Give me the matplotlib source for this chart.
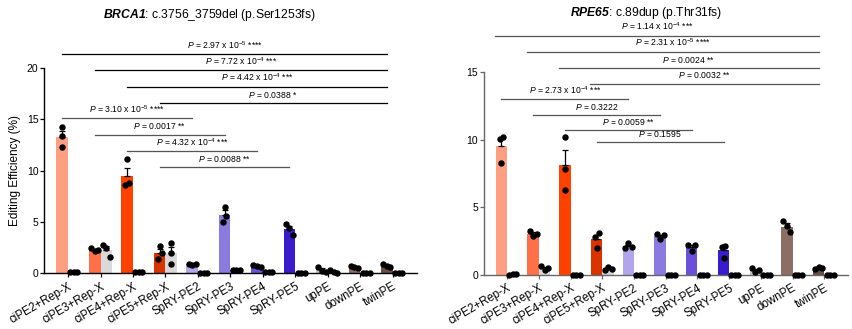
import matplotlib
matplotlib.use("Agg")
import matplotlib.pyplot as plt
from matplotlib import font_manager
import numpy as np

plt.rcParams['font.family'] = ['Liberation Sans', 'DejaVu Sans']
plt.rcParams['mathtext.fontset'] = 'custom'
plt.rcParams['mathtext.rm'] = 'Liberation Sans'
plt.rcParams['mathtext.it'] = 'Liberation Sans:italic'
plt.rcParams['mathtext.bf'] = 'Liberation Sans:bold'
plt.rcParams['mathtext.bfit'] = 'Liberation Sans:italic:bold'

nomes = {f.name for f in font_manager.fontManager.ttflist}
fonte_p = 'Liberation Sans Narrow' if 'Liberation Sans Narrow' in nomes else 'Liberation Sans'

groups = ['ciPE2+Rep-X', 'ciPE3+Rep-X', 'ciPE4+Rep-X', 'ciPE5+Rep-X', 'SpRY-PE2',
          'SpRY-PE3', 'SpRY-PE4', 'SpRY-PE5', 'upPE', 'downPE', 'twinPE']
colores = ['#ff9f82', '#ff7048', '#ff4100', '#d93400', '#b3a5ec', '#8b7ae0',
           '#6a50d8', '#3b1ccc', '#d6c0b8', '#8d6e63', '#6d4c41']
cinza = '#d9d9d9'
# second bar grey only for ciPE3 / ciPE5, else same colour as the first
segundo_cinza = [False, True, False, True, False, False, False, False, False, False, False]

# BRCA1 replicate values (treated, second bar)
brca1_a = [[14.3, 13.4, 12.3], [2.5, 2.15, 2.3], [11.1, 8.65, 8.8], [2.65, 1.4, 1.95],
           [0.95, 0.85, 0.9], [6.5, 5.6, 5.0], [0.8, 0.75, 0.6], [4.8, 4.4, 3.7],
           [0.65, 0.2, 0.1], [0.7, 0.6, 0.55], [0.9, 0.7, 0.6]]
brca1_b = [[0.1, 0.15, 0.15], [2.8, 2.45, 1.6], [0.1, 0.15, 0.15], [3.0, 1.95, 0.9],
           [0.05, 0.05, 0.05], [0.3, 0.35, 0.35], [0.1, 0.1, 0.1], [0.05, 0.05, 0.05],
           [0.3, 0.1, 0.05], [0.0, 0.0, 0.0], [0.0, 0.0, 0.0]]
# RPE65 replicate values
rpe65_a = [[10.2, 10.05, 8.3], [3.25, 2.9, 3.05], [10.2, 7.8, 6.3], [3.1, 2.8, 2.0],
           [2.0, 2.35, 2.05], [3.0, 2.7, 2.95], [2.25, 1.8, 2.2], [2.15, 1.25, 2.1],
           [0.5, 0.25, 0.35], [4.0, 3.6, 3.15], [0.45, 0.6, 0.5]]
rpe65_b = [[0.02, 0.05, 0.05], [0.7, 0.4, 0.5], [0.0, 0.0, 0.0], [0.35, 0.6, 0.45],
           [0.0, 0.0, 0.0], [0.0, 0.0, 0.0], [0.0, 0.0, 0.0], [0.0, 0.0, 0.0],
           [0.0, 0.0, 0.0], [0.0, 0.0, 0.0], [0.0, 0.0, 0.0]]

# comparisons (group i vs group j, p value text)
brca1_pares = [(0, 10), (1, 10), (2, 10), (3, 10), (0, 4), (1, 5), (2, 6), (3, 7)]
brca1_p = [r'$\it{P}$ = 2.97 x 10$^{\rm{-5}}$ ****', r'$\it{P}$ = 7.72 x 10$^{\rm{-4}}$ ***',
           r'$\it{P}$ = 4.42 x 10$^{\rm{-4}}$ ***', r'$\it{P}$ = 0.0388 *',
           r'$\it{P}$ = 3.10 x 10$^{\rm{-5}}$ ****', r'$\it{P}$ = 0.0017 **',
           r'$\it{P}$ = 4.32 x 10$^{\rm{-4}}$ ***', r'$\it{P}$ = 0.0088 **']
rpe65_pares = [(0, 10), (1, 10), (2, 10), (3, 10), (0, 4), (1, 5), (2, 6), (3, 7)]
rpe65_p = [r'$\it{P}$ = 1.14 x 10$^{\rm{-4}}$ ***', r'$\it{P}$ = 2.31 x 10$^{\rm{-5}}$ ****',
           r'$\it{P}$ = 0.0024 **', r'$\it{P}$ = 0.0032 **',
           r'$\it{P}$ = 2.73 x 10$^{\rm{-4}}$ ***', r'$\it{P}$ = 0.3222',
           r'$\it{P}$ = 0.0059 **', r'$\it{P}$ = 0.1595']

# bracket heights in data units
brca1_alturas = [21.35, 19.8, 18.2, 16.6, 15.1, 13.5, 11.9, 10.35]
rpe65_alturas = [17.7, 16.5, 15.3, 14.15, 13.0, 11.8, 10.7, 9.8]

largura = 0.36


def offsets(vals, escala):
    vals = np.array(vals)
    if vals.max() - vals.min() < 0.06 * escala:
        return np.array([-0.11, 0.0, 0.11])
    off = np.zeros(3)
    ordem = np.argsort(vals)
    for k in range(2):
        a, b = ordem[k], ordem[k + 1]
        if abs(vals[a] - vals[b]) < 0.03 * escala:
            off[a] -= 0.06
            off[b] += 0.06
    return off


def painel(ax, va, vb, ymax, passo, pares, ptxt, alturas, cor_eixo, cor_linhas, x_inicio_sup):
    x = np.arange(len(groups))
    for i in range(len(groups)):
        for lado, dados in ((-1, va[i]), (1, vb[i])):
            xc = x[i] + lado * largura / 2
            if lado == -1:
                c = colores[i]
            else:
                c = cinza if segundo_cinza[i] else colores[i]
            m = np.mean(dados)
            sem = np.std(dados, ddof=1) / np.sqrt(3)
            ax.bar(xc, m, width=largura, color=c, zorder=2)
            if m > 0.05:
                ax.errorbar(xc, m, yerr=[[0], [sem]], color='black', capsize=2.5,
                            elinewidth=0.9, capthick=0.9, zorder=3)
            ax.plot(xc + offsets(dados, ymax), dados, 'o', color='black',
                    markersize=3.6, zorder=4, clip_on=False)
    for k, ((a, b), t, h) in enumerate(zip(pares, ptxt, alturas)):
        x0 = a - largura / 2
        if k < 4:
            x0 -= x_inicio_sup
        x1 = b - largura / 2
        ax.plot([x0, x1], [h, h], color=cor_linhas[k], lw=0.9, clip_on=False)
        ax.text((x0 + x1) / 2, h + 0.017 * ymax, t, ha='center', va='bottom',
                fontsize=6.2, family=[fonte_p, 'DejaVu Sans'])
    ax.set_xlim(-0.74, len(groups) - 1 + 0.74)
    ax.set_ylim(0, ymax)
    ax.set_yticks(np.arange(0, ymax + 0.1, passo))
    ax.set_xticks(x)
    ax.set_xticklabels(groups, rotation=30, ha='right', rotation_mode='anchor', fontsize=8.3)
    ax.tick_params(axis='y', labelsize=7.5, length=3, width=0.9, colors=cor_eixo,
                   labelcolor='black', pad=1)
    ax.tick_params(axis='x', length=3, width=0.9, colors=cor_eixo, labelcolor='black', pad=2)
    for s in ('top', 'right'):
        ax.spines[s].set_visible(False)
    for s in ('left', 'bottom'):
        ax.spines[s].set_color(cor_eixo)
        ax.spines[s].set_linewidth(1.0)


fig = plt.figure(figsize=(8.53, 3.29), dpi=100)
ax1 = fig.add_axes([0.0516, 0.169, 0.437, 0.624])
ax2 = fig.add_axes([0.567, 0.164, 0.427, 0.617])

painel(ax1, brca1_a, brca1_b, 20, 5, brca1_pares, brca1_p, brca1_alturas, 'black',
       ['black'] * 4 + ['#555555'] * 4, 0.0)
painel(ax2, rpe65_a, rpe65_b, 15, 5, rpe65_pares, rpe65_p, rpe65_alturas, '#666666',
       ['#555555'] * 8, 0.2)

ax1.set_ylabel('Editing Efficiency (%)', fontsize=8.5, labelpad=4)

fig.text(0.245, 0.955, r'$\mathbfit{BRCA1}$: c.3756_3759del (p.Ser1253fs)', ha='center',
         va='center', fontsize=8.7)
fig.text(0.758, 0.96, r'$\mathbfit{RPE65}$: c.89dup (p.Thr31fs)', ha='center',
         va='center', fontsize=8.7)

fig.savefig('out.png', dpi=100)
